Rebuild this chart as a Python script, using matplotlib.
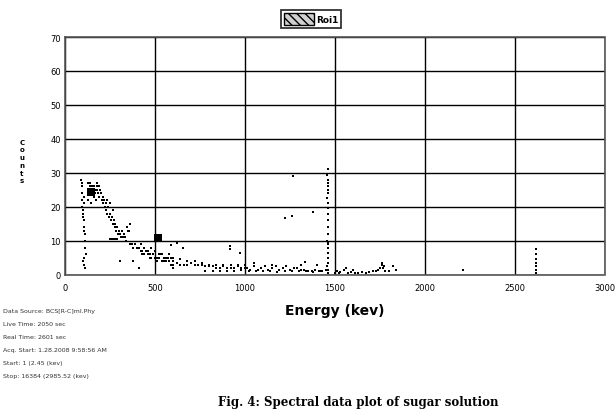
import matplotlib
matplotlib.use("Agg")
import matplotlib.pyplot as plt
from matplotlib.patches import Patch

# ---------------- data (energy keV, counts) ----------------
seg_a_e = [90, 92, 95, 95, 98, 100, 100, 102, 104, 105, 106, 108, 110, 110, 112, 115, 100, 105, 110, 108, 103, 97, 93]
seg_a_c = [28, 26, 24, 20, 19, 19, 18, 17, 23, 21, 16, 14, 12, 10, 8, 6, 4, 3, 2, 5, 13, 22, 27]

seg_b_e = [125, 130, 135, 140, 145, 150, 155, 160, 165, 170, 175, 180, 185, 190, 195, 200, 205, 210, 215, 220,
           140, 150, 160, 170, 180, 190, 200, 210, 130, 145]
seg_b_c = [25, 27, 24, 26, 25, 24, 25, 26, 24, 25, 26, 25, 24, 23, 25, 24, 22, 21, 22, 20,
           27, 26, 23, 22, 27, 26, 24, 23, 22, 21]

seg_c_e = [225, 230, 235, 240, 245, 250, 255, 260, 265, 270, 275, 280, 285, 290, 295, 300, 235, 250, 265,
           250, 260, 270, 280, 290]
seg_c_c = [21, 19, 18, 20, 17, 18, 16, 17, 15, 16, 14, 15, 13, 14, 12, 13, 22, 21, 19,
           10.5, 10.5, 10.5, 10.5, 10.5]

seg_d_e = [305, 310, 315, 320, 325, 330, 335, 340, 350, 360, 370, 380, 390, 400, 345, 355, 360, 305, 410]
seg_d_c = [12, 11, 13, 11, 12, 11, 11, 10, 13, 9, 9, 8, 9, 8, 14, 13, 15, 4, 2]

seg_e_e = [410, 420, 430, 440, 450, 460, 470, 480, 490, 500, 510, 520, 530, 540, 550, 560, 570, 580, 590, 600,
           420, 440, 460, 480, 500, 520, 540, 560, 580, 600, 430, 470, 510, 550, 590, 380,
           587, 620, 656, 917, 917, 972]
seg_e_c = [8, 7, 7, 6, 7, 6, 6, 5, 6, 5, 5, 5, 6, 4, 5, 4, 5, 4, 5, 4,
           9, 8, 7, 8, 7, 6, 6, 5, 6, 5, 6, 5, 4, 4, 3, 4,
           8.6, 9.3, 7.9, 7.6, 8.5, 6.4]

seg_f_e = [620, 640, 660, 680, 700, 720, 740, 760, 780, 800, 820, 840, 860, 880, 900, 920, 940, 960, 980, 1000,
           640, 680, 720, 760, 800, 840, 880, 920, 960, 1000,
           780, 820, 860, 900, 940, 980, 600, 600, 600]
seg_f_c = [3.5, 3, 3, 3, 3.5, 3, 3, 3, 2.5, 2.5, 2.5, 2, 2, 2.5, 2, 2, 2, 2.5, 2, 2,
           4.5, 4, 4, 3.5, 3, 3, 3, 3, 3, 3,
           1, 1, 1, 1, 1.2, 1.5, 2, 3, 4]

seg_g_e = [1010, 1030, 1050, 1070, 1090, 1110, 1130, 1150, 1170, 1190, 1210, 1230, 1250, 1270, 1290, 1310,
           1330, 1350, 1370, 1390, 1410, 1430, 1450,
           1020, 1060, 1100, 1140, 1180, 1220, 1260, 1300, 1340, 1380, 1420,
           1050, 1150, 1310, 1400, 1333, 1222, 1261, 1376, 1267]
seg_g_c = [2, 1.5, 2.5, 1.5, 2, 2.5, 1.5, 2, 2.5, 1.5, 2, 2.5, 1.5, 2, 2, 1.5,
           1.5, 1, 1, 1.5, 1.2, 1, 1.5,
           1, 1, 1, 1, 0.8, 1, 1, 1, 1, 0.8, 1,
           3.5, 3, 3, 3, 3.7, 16.7, 17.3, 18.5, 29]

seg_v_e = [1460, 1458, 1462, 1460, 1459, 1461, 1460, 1458, 1462, 1460, 1459, 1461, 1460, 1460, 1458,
           1462, 1460, 1459, 1461, 1460, 1460, 1458, 1462, 1460]
seg_v_c = [31, 29.5, 28, 27, 26, 25, 24, 22.5, 21, 19.5, 18, 16, 14, 12, 10, 9.5, 9, 8, 6.5, 5, 3.5, 2.5, 1.5, 0.5]

seg_h_e = [1500, 1510, 1520, 1530, 1550, 1570, 1590, 1610, 1630, 1650, 1670, 1690, 1710, 1730, 1740, 1750,
           1760, 1770, 1780, 1800, 1820, 1840, 1560, 1600, 1760, 1765, 2211,
           2616, 2614, 2618, 2616, 2615, 2617, 2616]
seg_h_c = [0.5, 1, 0.5, 0.8, 1.5, 0.5, 0.8, 0.5, 0.5, 0.8, 0.5, 0.8, 1, 1, 1.5, 2,
           3.5, 2.5, 1, 1, 2.5, 1.5, 2, 1.5, 3, 2, 1.5,
           7.5, 6, 4.5, 3.5, 2.5, 1.5, 0.5]

big_e = [143, 517]
big_c = [24.5, 10.8]

x_ticks = [0, 500, 1000, 1500, 2000, 2500, 3000]
y_ticks = [0, 10, 20, 30, 40, 50, 60, 70]

info_lines = ["Data Source: BCS[R-C]ml.Phy",
              "Live Time: 2050 sec",
              "Real Time: 2601 sec",
              "Acq. Start: 1.28.2008 9:58:56 AM",
              "Start: 1 (2.45 (kev)",
              "Stop: 16384 (2985.52 (kev)"]

# ---------------- figure ----------------
W, H = 615, 410
fig = plt.figure(figsize=(W / 100, H / 100), dpi=100)
ax = fig.add_axes([65 / W, 1 - 275.7 / H, 540 / W, 237.7 / H])

energy = seg_a_e + seg_b_e + seg_c_e + seg_d_e + seg_e_e + seg_f_e + seg_g_e + seg_v_e + seg_h_e
counts = seg_a_c + seg_b_c + seg_c_c + seg_d_c + seg_e_c + seg_f_c + seg_g_c + seg_v_c + seg_h_c

ax.scatter(energy, counts, marker='s', s=3, color='black', linewidths=0, zorder=3)
ax.scatter(big_e, big_c, marker='s', s=28, color='black', linewidths=0, zorder=3)

ax.set_xlim(0, 3000)
ax.set_ylim(0, 70)
ax.set_xticks(x_ticks)
ax.set_yticks(y_ticks)
ax.grid(True, color='black', linewidth=1.0, zorder=1)
ax.set_axisbelow(True)
for s in ax.spines.values():
    s.set_color('#555555')
    s.set_linestyle((0, (1, 1)))
    s.set_linewidth(1.2)
ax.tick_params(length=0, labelsize=6, pad=6)
ax.tick_params(axis='y', pad=3)

ax.set_xlabel("Energy (kev)", fontsize=10, fontweight='bold', labelpad=8)

# stacked y label
fig.text(22 / W, 1 - 162 / H, "C\no\nu\nn\nt\ns", fontsize=5, fontweight='bold',
         ha='center', va='center', linespacing=1.35)

# legend
handle = Patch(facecolor='#d0d0d0', edgecolor='black', hatch='\\\\\\\\', label='Roi1')
leg = fig.legend(handles=[handle], loc='center', bbox_to_anchor=(311 / W, 1 - 20 / H),
                 frameon=True, fancybox=False, handlelength=3.4, handleheight=1.6,
                 borderpad=0.3, handletextpad=0.15, prop={'weight': 'bold', 'size': 6.5})
leg.get_frame().set_edgecolor('black')
leg.get_frame().set_linewidth(1.3)

# info lines
for i, line in enumerate(info_lines):
    fig.text(3 / W, 1 - (312 + 13 * i) / H, line, fontsize=4.5, color='#333333', va='center', ha='left')

# caption
fig.text(218 / W, 1 - 396 / H, "Fig. 4: Spectral data plot of sugar solution",
         fontsize=8.5, fontweight='bold', family='DejaVu Serif', va='top', ha='left')

fig.savefig("out.png", dpi=100)
